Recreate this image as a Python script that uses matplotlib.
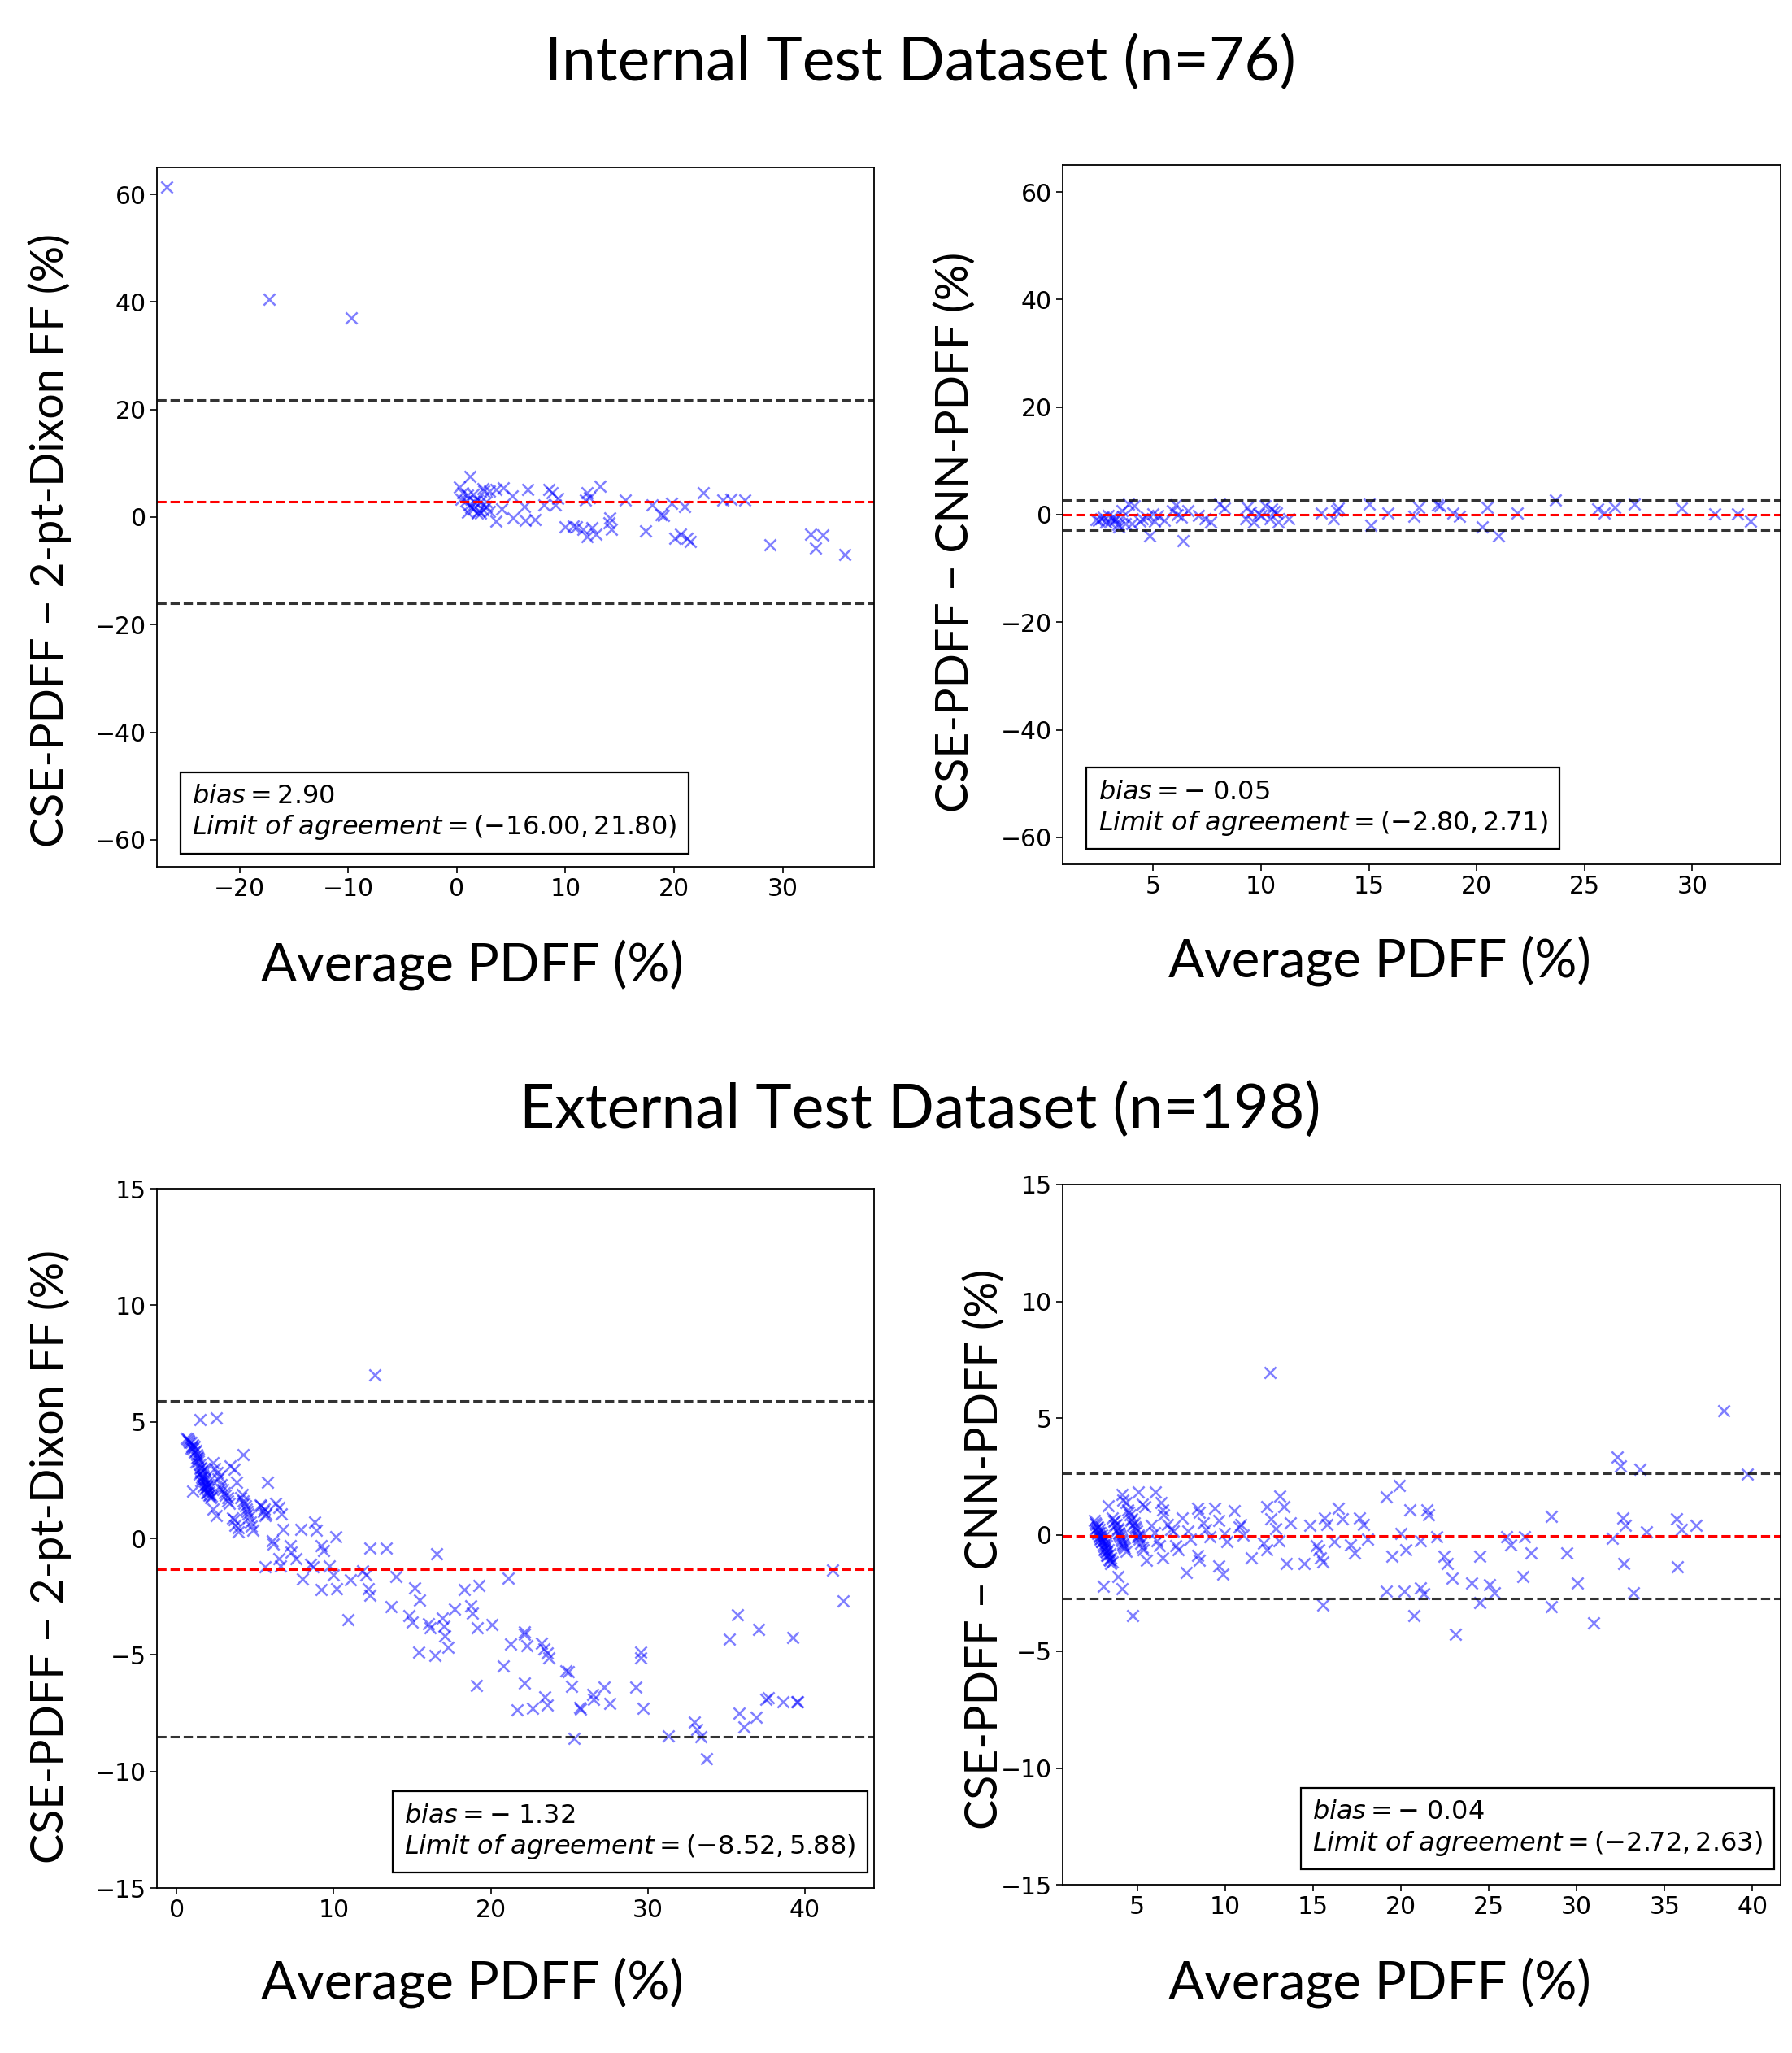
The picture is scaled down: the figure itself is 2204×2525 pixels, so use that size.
import matplotlib
matplotlib.use("Agg")
import matplotlib.pyplot as plt
from matplotlib.offsetbox import AnchoredText
from matplotlib.ticker import MultipleLocator

# ---- data (mean PDFF, difference) ----
int_dixon_x = [-26.7, -17.3, -9.7, 1.2, 0.2, 0.5, 1.0, 0.4, 1.5, 2.4, 2.5, 1.1, 1.5, 1.9,
               2.4, 2.7, 2.2, 1.9, 3.0, 3.6, 4.3, 5.1, 4.1, 3.6, 5.2, 6.2, 6.5, 6.3, 7.2,
               8.0, 8.5, 8.8, 9.1, 9.3, 10.0, 10.7, 11.0, 11.6, 11.8, 12.0, 12.2, 12.0,
               12.4, 12.8, 13.2, 14.1, 14.2, 15.5, 17.4, 18.0, 18.8, 19.0, 19.8, 20.1,
               20.6, 21.0, 21.2, 21.5, 22.7, 24.5, 25.2, 26.5, 28.8, 32.6, 33.0, 33.7,
               35.7, 1.0, 2.2, 2.7, 1.6, 3.0, 0.8, 1.3, 2.0, 14.0]
int_dixon_y = [61.3, 40.5, 37.0, 7.6, 5.6, 4.5, 4.1, 3.4, 4.3, 5.3, 4.9, 2.2, 1.5, 0.7,
               1.4, 2.0, 2.8, 3.2, 4.8, 5.1, 5.4, 3.9, 1.5, -0.7, -0.1, 1.9, 5.1, -0.6,
               -0.4, 2.2, 5.2, 4.6, 2.2, 3.5, -1.8, -1.7, -1.8, -2.2, 3.2, 4.5, 3.7, -3.7,
               -2.0, -3.2, 5.8, -0.1, -2.3, 3.2, -2.5, 2.2, 0.5, 0.3, 2.6, -3.9, -3.1, 1.9,
               -4.0, -4.5, 4.6, 3.2, 3.4, 3.2, -5.2, -3.1, -5.8, -3.4, -6.9, 0.9, 0.7, 2.8,
               2.8, 1.0, 3.0, 1.8, 1.2, -1.0]

int_cnn_x = [2.35, 2.57, 2.9, 3.0, 3.1, 3.27, 3.4, 3.55, 3.7, 3.87, 4.1, 4.4, 4.5, 4.85,
             5.0, 5.07, 5.2, 5.9, 6.04, 6.3, 6.4, 6.6, 7.1, 7.4, 7.67, 8.06, 8.3, 9.36,
             9.3, 9.66, 9.88, 10.0, 10.2, 10.4, 10.5, 10.7, 10.8, 11.3, 12.8, 13.35,
             13.5, 13.6, 15.0, 15.1, 15.9, 17.1, 17.3, 18.2, 18.3, 18.9, 19.2, 20.25,
             20.5, 21.0, 21.9, 23.65, 25.6, 25.9, 26.4, 27.3, 29.5, 31.05, 32.1, 32.7,
             2.45, 2.7, 2.8, 3.2, 3.35, 3.6, 4.0, 4.7, 5.5, 6.1, 9.5, 10.6]
int_cnn_y = [-0.9, -0.8, -0.1, -1.4, -0.5, -0.8, -2.2, 0.8, -1.6, 2.0, 1.6, -1.2, -0.8,
             -3.9, 0.1, -1.2, -0.1, 0.8, 1.8, -0.5, -4.8, 0.8, -0.1, -0.8, -1.4, 2.0,
             1.2, 1.4, -0.8, -1.4, 0.1, -0.1, 1.6, -0.8, 1.0, 0.3, -1.4, -0.8, 0.3,
             -0.8, 0.8, 1.2, 2.0, -2.0, 0.3, -0.3, 1.4, 1.8, 1.6, 0.3, -0.3, -2.2, 1.4,
             -3.9, 0.3, 2.7, 1.0, 0.3, 1.4, 1.9, 1.2, 0.1, 0.1, -1.2,
             -1.1, -0.4, -1.3, -1.0, -1.8, -0.3, -1.7, -0.4, -1.0, 0.0, 0.4, 0.6]

ext_dixon_x = [0.63, 0.77, 0.91, 1.03, 1.12, 0.94, 1.21, 1.29, 1.38, 1.26, 1.47, 1.5, 1.56,
               1.64, 1.61, 1.73, 1.78, 1.85, 1.9, 1.99, 1.96, 2.08, 2.17, 1.68, 1.82,
               1.56, 2.03, 1.43, 1.73, 1.9, 0.7, 0.8, 0.95, 1.05, 1.15, 1.3, 1.4, 1.55,
               1.6, 1.7, 1.8, 1.88, 1.95, 2.05, 2.12, 2.2, 1.35,
               12.64, 1.47, 2.51, 1.03, 2.34, 2.6, 2.72, 2.77, 2.95, 2.34, 2.51, 3.39,
               3.65, 3.82, 4.26, 3.12, 3.25, 3.35, 3.65, 3.91, 3.91, 4.17, 4.26, 4.4,
               4.52, 4.61, 4.7, 4.87, 5.39, 5.52, 5.62, 5.8, 6.32, 6.5, 6.67, 6.79, 6.09,
               6.14, 5.65, 6.53, 6.62, 7.23, 7.31, 7.58, 7.89, 8.01, 8.54, 8.71, 8.8, 8.88,
               9.23, 9.36, 9.23, 9.7, 9.98, 10.16, 10.19, 10.89, 11.07, 11.85, 12.03,
               12.2, 12.29, 12.32, 13.34, 13.95, 13.65, 15.17, 15.47, 14.82, 15.0, 16.56,
               16.04, 16.13, 16.91, 17.0, 17.7, 18.31, 18.75, 18.83, 19.23, 19.13, 20.05,
               21.1, 22.15,
               2.43, 2.86, 3.04, 2.65, 3.25, 3.56, 3.74, 4.09, 4.3, 4.43, 4.57, 4.75, 5.3,
               5.57, 5.69,
               41.76, 42.41, 35.7, 35.2, 37.06, 39.2, 29.56, 29.56, 29.26, 29.7, 27.2,
               27.56, 26.47, 26.56, 25.68, 25.7, 25.3, 25.15, 24.94, 24.8, 23.68, 23.6,
               23.38, 23.24, 23.44, 23.6, 22.65, 21.7, 22.12, 22.3, 22.12, 21.26, 20.8,
               19.1, 17.06, 17.3, 16.47, 15.44, 31.32, 32.94, 33.1, 33.4, 33.76, 35.8,
               36.1, 36.9, 37.5, 37.65, 38.6, 39.5, 39.55]
ext_dixon_y = [4.30, 4.19, 4.11, 4.02, 3.93, 3.87, 3.76, 3.58, 3.41, 3.29, 3.18, 3.0, 2.83,
               2.71, 2.6, 2.54, 2.43, 2.31, 2.19, 2.08, 1.96, 1.85, 1.73, 2.25, 2.14,
               2.48, 2.31, 2.77, 2.95, 1.96, 4.25, 4.1, 3.95, 3.85, 3.7, 3.45, 3.3, 3.05,
               2.9, 2.65, 2.5, 2.35, 2.2, 2.0, 1.9, 1.8, 3.5,
               7.0, 5.09, 5.15, 2.02, 3.24, 2.83, 2.66, 2.14, 2.08, 1.27, 0.98, 3.12,
               2.95, 2.42, 3.58, 1.85, 1.61, 1.5, 0.8, 0.45, 0.28, 1.9, 1.61, 1.38,
               1.15, 0.92, 0.69, 0.34, 1.38, 1.15, 0.98, 2.4, 1.5, 1.32, 1.03, 0.4, -0.1,
               -0.24, -1.23, -0.88, -1.17, -0.3, -0.59, -0.88, 0.4, -1.75, -1.11, -1.23,
               0.71, 0.34, -0.3, -0.53, -2.21, -1.17, -1.58, 0.08, -2.15, -3.49, -1.78,
               -1.4, -1.58, -2.15, -2.44, -0.42, -0.42, -1.63, -2.94, -2.12, -2.65, -3.31,
               -3.6, -0.67, -3.66, -3.84, -3.43, -3.78, -3.02, -2.21, -2.91, -3.2, -2.04,
               -3.84, -3.7, -1.71, -4.01,
               3.0, 2.31, 1.96, 2.54, 1.73, 0.86, 0.57, 1.73, 1.5, 1.27, 1.03, 0.51, 1.44,
               1.27, 1.03,
               -1.36, -2.67, -3.28, -4.33, -3.9, -4.24, -4.88, -5.13, -6.4, -7.28, -6.39,
               -7.08, -6.69, -6.9, -7.24, -7.33, -8.57, -6.36, -5.73, -5.67, -5.12, -4.92,
               -4.73, -4.49, -6.81, -7.14, -7.3, -7.37, -6.2, -4.59, -4.1, -4.53, -5.47,
               -6.32, -4.2, -4.69, -5.02, -4.88, -8.49, -7.9, -8.2, -8.5, -9.47, -7.49,
               -8.1, -7.67, -6.9, -6.84, -7.0, -7.0, -7.02]

ext_cnn_x = [2.56, 2.66, 2.74, 2.82, 2.89, 2.97, 3.05, 3.12, 3.2, 3.28, 3.35, 3.43, 3.51,
             3.59, 2.74, 2.89, 3.05, 3.2, 3.39, 2.59, 2.82, 2.97, 3.12, 3.28, 3.48,
             3.59, 3.69, 3.79, 3.89, 3.97, 4.05, 4.12, 4.2, 4.28, 4.35, 3.74, 3.94, 4.09,
             4.25,
             4.46, 4.58, 4.71, 4.82, 4.89, 4.97, 5.05, 5.12, 5.2, 5.28, 5.35, 4.74, 5.02,
             3.08, 3.35, 3.89, 4.12, 4.74, 4.12, 4.2, 4.35, 5.05, 5.28, 5.43, 5.51, 6.05,
             6.35, 6.43, 6.51, 6.43, 5.81, 5.97, 6.12, 6.28, 6.74, 6.89, 7.04, 7.2, 7.35,
             7.58, 7.81, 7.89, 8.04, 8.43, 8.51, 8.74, 8.89, 8.43, 8.51, 9.12, 9.43,
             9.66, 9.66, 9.89, 9.97, 10.12, 10.5, 10.81, 10.89, 11.04, 11.5, 12.35,
             12.58, 12.89, 13.12, 13.35, 13.04, 12.2, 12.35, 13.5, 13.73, 14.5, 14.81,
             15.19, 15.35, 15.42, 15.58, 15.58, 15.66, 15.81, 16.19, 16.42, 16.65, 17.12,
             17.35, 17.66, 17.88, 18.12,
             19.19, 19.93, 19.19, 19.47, 19.99, 20.19, 20.3, 20.5, 20.76, 21.11, 21.31,
             21.11, 21.46, 21.57, 22.03, 22.45, 22.65, 22.91, 23.11, 24.03, 24.49, 24.49,
             25.03, 25.34, 26.03, 26.23, 26.95, 27.03, 27.42, 28.57, 28.57, 29.42, 30.05,
             30.97, 32.03, 32.3, 32.49, 32.61, 32.77, 32.69, 33.23, 33.6, 33.95, 35.69,
             35.95, 35.72, 36.79, 39.72, 12.55, 38.35,
             2.62, 2.7, 2.78, 2.86, 2.93, 3.0, 3.1, 3.16, 3.24, 3.31, 3.45, 3.7, 3.84,
             4.0, 4.16, 4.52, 4.66, 4.92, 5.1]
ext_cnn_y = [0.62, 0.44, 0.33, 0.21, 0.1, -0.02, -0.13, -0.25, -0.36, -0.48, -0.65, -0.83,
             -1.0, -1.17, 0.04, -0.19, -0.42, -0.71, -1.06, 0.21, -0.07, -0.31, -0.65,
             -0.88, -1.23,
             0.73, 0.56, 0.44, 0.27, 0.1, -0.07, -0.25, -0.42, -0.59, -0.71, 0.39, 0.04,
             -0.19, -0.51,
             1.08, 0.85, 0.68, 0.5, 0.33, 0.16, -0.02, -0.19, -0.36, -0.54, -0.65, 0.39,
             -0.07,
             -2.21, 1.22, -1.81, -2.33, -3.48, 1.72, 1.48, 1.37, 1.83, 1.31, 1.2, -1.11,
             1.83, 1.37, 1.08, 0.85, -1.0, 0.39, 0.1, -0.25, -0.48, 0.44, 0.21, 0.16,
             -0.48, -0.65, 0.73, -1.63, 0.16, -0.19, 1.14, 0.96, 0.5, 0.21, -0.88, -1.11,
             -0.07, 1.14, 0.62, -1.34, -1.69, 0.04, -0.31, 1.02, 0.33, 0.44, -0.02, -1.0,
             1.2, 0.68, 0.27, 1.66, 1.2, -0.25, -0.36, -0.65, -1.23, 0.5, -1.23, 0.39,
             -0.48, -0.65, -1.0, -1.17, -3.02, 0.73, 0.44, -0.31, 1.14, 0.68, -0.42,
             -0.77, 0.73, 0.44, -0.19,
             1.62, 2.1, -2.41, -0.91, 0.04, -2.41, -0.63, 1.08, -3.46, -2.27, -2.52,
             -0.25, 1.08, 0.87, -0.07, -0.91, -1.23, -1.86, -4.26, -2.07, -0.91, -2.9,
             -2.15, -2.48, -0.1, -0.42, -1.81, -0.07, -0.77, 0.79, -3.1, -0.77, -2.07,
             -3.79, -0.17, 3.33, 2.93, 0.73, 0.41, -1.25, -2.48, 2.79, 0.13, 0.68, 0.21,
             -1.38, 0.39, 2.58, 6.95, 5.3,
             0.5, 0.3, 0.1, -0.05, -0.15, -0.3, -0.5, -0.6, -0.75, -0.9, -1.1, 0.6, 0.2,
             0.0, -0.35, 0.95, 0.6, 0.25, -0.1]

biases = [2.90, -0.05, -1.32, -0.04]
loa_low = [-16.00, -2.80, -8.52, -2.72]
loa_high = [21.80, 2.71, 5.88, 2.63]

titles = ["Internal Test Dataset (n=76)", "External Test Dataset (n=198)"]
ylabels = ["CSE-PDFF \u2212 2-pt-Dixon FF (%)", "CSE-PDFF \u2212 CNN-PDFF (%)",
           "CSE-PDFF \u2212 2-pt-Dixon FF (%)", "CSE-PDFF \u2212 CNN-PDFF (%)"]
xlabel = "Average PDFF (%)"

W, H = 2204, 2525
fig = plt.figure(figsize=(W / 100, H / 100), dpi=100)


def fx(px):
    return px / W


def fy(py):
    return 1 - py / H


# axes boxes in pixels: left, top, right, bottom
boxes = [(193, 206, 1075, 1066), (1307, 203, 2190, 1063),
         (193, 1462, 1075, 2322), (1307, 1457, 2190, 2318)]
xlims = [(-27.6, 38.4), (0.8, 34.1), (-1.25, 44.4), (0.76, 41.6)]
ylims = [(-65, 65), (-65, 65), (-15, 15), (-15, 15)]
xsteps = [10, 5, 10, 5]
ysteps = [20, 20, 5, 5]
box_loc = ["lower left", "lower left", "lower right", "lower right"]
box_anchor = [(0.033, 0.019), (0.033, 0.022), (0.991, 0.022), (0.991, 0.022)]
xs = [int_dixon_x, int_cnn_x, ext_dixon_x, ext_cnn_x]
ys = [int_dixon_y, int_cnn_y, ext_dixon_y, ext_cnn_y]
xlabel_pos = [(581, 1187), (1697, 1182), (581, 2439), (1697, 2439)]
ylabel_pos = [(61, 664), (1175, 654), (61, 1914), (1211, 1905)]

label_font = "Lato"


def fmt_bias(v):
    # the original shows a binary-style minus: "bias = - 0.05"
    if v < 0:
        return r"$bias = -\;%.2f$" % abs(v)
    return r"$bias = %.2f$" % v


for i in range(4):
    l, t, r, b = boxes[i]
    ax = fig.add_axes([fx(l), fy(b), fx(r - l), (b - t) / H])
    ax.scatter(xs[i], ys[i], marker="x", color="blue", alpha=0.5, s=105, linewidths=1.8)
    ax.axhline(biases[i], color="red", linestyle="--", linewidth=2.2)
    ax.axhline(loa_low[i], color="black", linestyle="--", linewidth=2.2, alpha=0.8)
    ax.axhline(loa_high[i], color="black", linestyle="--", linewidth=2.2, alpha=0.8)
    ax.set_xlim(*xlims[i])
    ax.set_ylim(*ylims[i])
    ax.xaxis.set_major_locator(MultipleLocator(xsteps[i]))
    ax.yaxis.set_major_locator(MultipleLocator(ysteps[i]))
    ax.tick_params(labelsize=21.5, length=6, width=1.2)
    for sp in ax.spines.values():
        sp.set_linewidth(1.3)

    txt = (fmt_bias(biases[i]) + "\n"
           + r"$Limit\ of\ agreement = (%.2f, %.2f)$" % (loa_low[i], loa_high[i]))
    at = AnchoredText(txt, loc=box_loc[i], prop=dict(size=23), frameon=True,
                      borderpad=0, pad=0.45, bbox_to_anchor=box_anchor[i],
                      bbox_transform=ax.transAxes)
    at.patch.set_boxstyle("square,pad=0")
    at.patch.set_linewidth(1.6)
    ax.add_artist(at)

    px, py = xlabel_pos[i]
    fig.text(fx(px), fy(py), xlabel, ha="center", va="center",
             fontsize=47, family=label_font)
    px, py = ylabel_pos[i]
    fig.text(fx(px), fy(py), ylabels[i], ha="center", va="center", rotation=90,
             fontsize=40, family=label_font)

fig.text(fx(1132), fy(77), titles[0], ha="center", va="center", fontsize=54,
         family=label_font)
fig.text(fx(1132), fy(1365), titles[1], ha="center", va="center", fontsize=54,
         family=label_font)

fig.savefig("out.png", dpi=100, facecolor="white")
plt.close(fig)
